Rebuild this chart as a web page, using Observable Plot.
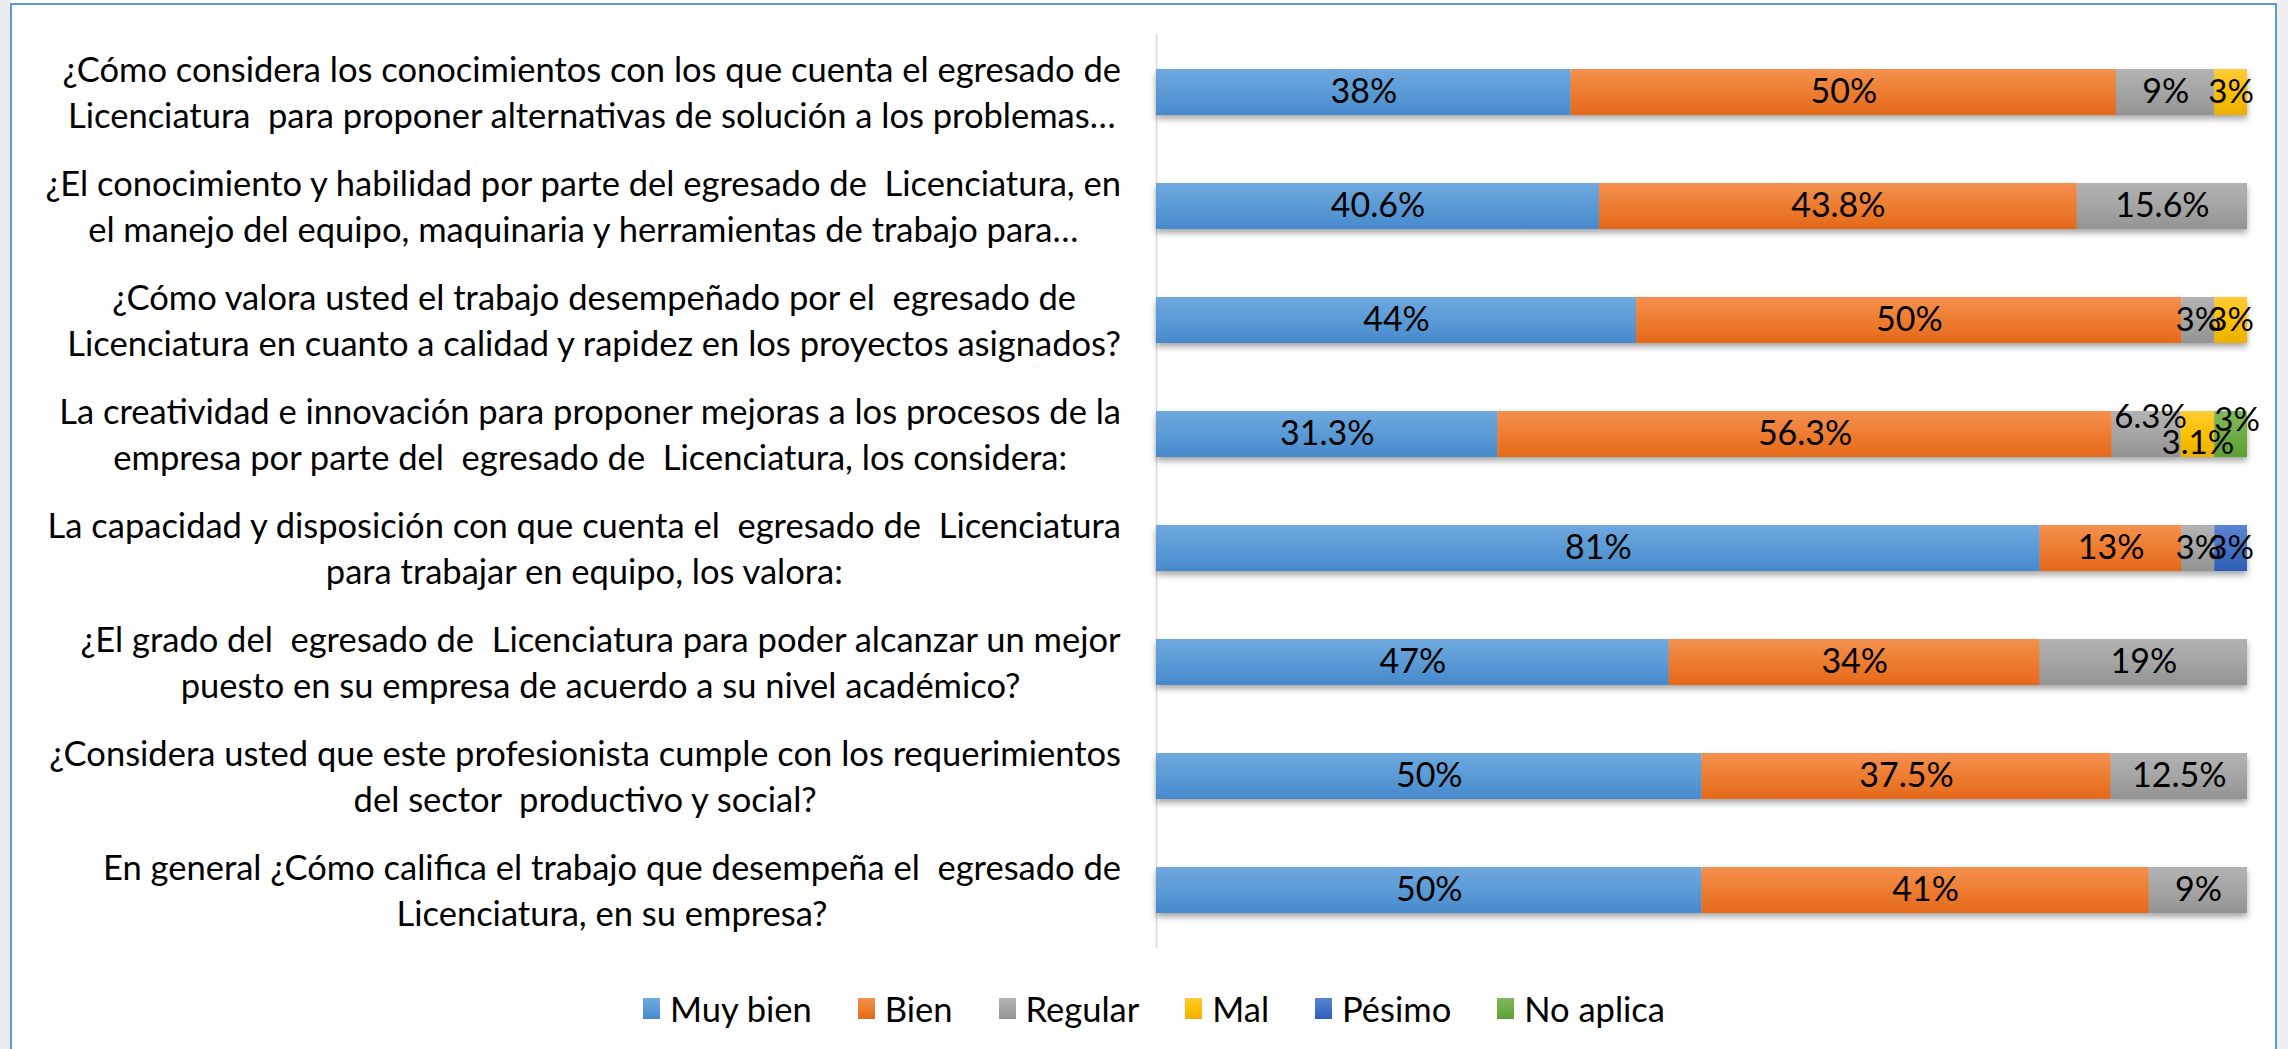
<!DOCTYPE html>
<html><head><meta charset="utf-8">
<script src="https://cdn.jsdelivr.net/npm/d3@7"></script>
<script src="https://cdn.jsdelivr.net/npm/@observablehq/plot@0.6"></script>
<style>
html,body{margin:0;padding:0;background:#fff;}
body{width:2288px;height:1049px;position:relative;overflow:hidden;font-family:Lato,"Liberation Sans",sans-serif;}
#stripL{position:absolute;left:0;top:0;width:10px;height:1049px;background:#ebebeb;}
#stripR{position:absolute;left:2277px;top:0;width:11px;height:1049px;background:#efefef;}
#frame{position:absolute;left:10px;top:3px;width:2267px;height:1100px;border:2px solid #5B9BD5;background:#fff;box-sizing:border-box;}
#chart{position:absolute;left:0;top:0;}
#legend{position:absolute;left:10px;top:984px;width:2288px;height:48px;display:flex;justify-content:center;align-items:center;font-size:34.5px;color:#000;}
.item{display:flex;align-items:center;margin:0 23px;}
.sw{width:17px;height:21px;margin-right:10px;}
</style></head>
<body>
<div id="stripL"></div><div id="stripR"></div><div id="frame"></div>
<div id="chart"></div>
<div id="legend"></div>
<script>
const categories = [
  "¿Cómo considera los conocimientos con los que cuenta el egresado de\nLicenciatura  para proponer alternativas de solución a los problemas…",
  "¿El conocimiento y habilidad por parte del egresado de  Licenciatura, en\nel manejo del equipo, maquinaria y herramientas de trabajo para…",
  "¿Cómo valora usted el trabajo desempeñado por el  egresado de\nLicenciatura en cuanto a calidad y rapidez en los proyectos asignados?",
  "La creatividad e innovación para proponer mejoras a los procesos de la\nempresa por parte del  egresado de  Licenciatura, los considera:",
  "La capacidad y disposición con que cuenta el  egresado de  Licenciatura\npara trabajar en equipo, los valora:",
  "¿El grado del  egresado de  Licenciatura para poder alcanzar un mejor\npuesto en su empresa de acuerdo a su nivel académico?",
  "¿Considera usted que este profesionista cumple con los requerimientos\ndel sector  productivo y social?",
  "En general ¿Cómo califica el trabajo que desempeña el  egresado de\nLicenciatura, en su empresa?"
];
const seriesNames = ["Muy bien", "Bien", "Regular", "Mal", "Pésimo", "No aplica"];
const muyBien  = [38, 40.6, 44, 31.3, 81, 47, 50, 50];
const bien     = [50, 43.8, 50, 56.3, 13, 34, 37.5, 41];
const regular  = [9, 15.6, 3, 6.3, 3, 19, 12.5, 9];
const mal      = [3, 0, 3, 3.1, 0, 0, 0, 0];
const pesimo   = [0, 0, 0, 0, 3, 0, 0, 0];
const noAplica = [0, 0, 0, 3, 0, 0, 0, 0];
const colorsTop    = ["#6FA8DF", "#F4904F", "#B3B3B3", "#FFCB3A", "#5B84D2", "#80B95A"];
const colorsBottom = ["#4689CC", "#E4681A", "#939393", "#EAB000", "#2D5DB5", "#5E9E35"];
const colorsFlat   = ["#5B9BD5", "#ED7D31", "#A5A5A5", "#FFC000", "#4472C4", "#70AD47"];

const seriesValues = [muyBien, bien, regular, mal, pesimo, noAplica];
const rows = [];
categories.forEach((q, i) => {
  let acc = 0;
  seriesNames.forEach((s, j) => {
    const v = seriesValues[j][i];
    if (v > 0) { rows.push({q, qi: i, series: s, value: v, x1: acc, x2: acc + v}); acc += v; }
  });
});

// label nudges for the crowded row (as in the original rendering)
const nudges = {"3|Regular": [4, -17], "3|Mal": [0, 9], "3|No aplica": [6, -14]};
const key = d => d.qi + "|" + d.series;
const wide = rows.filter(d => !nudges[key(d)] && d.value >= 5);
const narrow = rows.filter(d => !nudges[key(d)] && d.value < 5);
const labelMarks = Object.entries(nudges).map(([k, [dx, dy]]) =>
  Plot.text(rows.filter(d => key(d) === k), {
    x: d => (d.x1 + d.x2) / 2, y: "q", text: d => d.value + "%",
    dx, dy, fontSize: 33, fill: "#000", letterSpacing: -1
  })
);

const chart = Plot.plot({
  width: 2288, height: 962,
  marginLeft: 1156, marginRight: 41, marginTop: 34, marginBottom: 14,
  style: {fontFamily: "Lato, 'Liberation Sans', sans-serif", fontSize: "34px", background: "transparent"},
  x: {domain: [0, 100], axis: null},
  y: {domain: categories, axis: null, paddingInner: 0.6, paddingOuter: 0.3},
  color: {domain: seriesNames, range: seriesNames.map((s, j) => `url(#grad${j})`)},
  marks: [
    Plot.ruleX([0], {stroke: "#D9D9D9", strokeWidth: 1.6}),
    Plot.barX(rows, {x1: "x1", x2: "x2", y: "q", fill: "series", inset: 0}),
    Plot.text(wide, {x: d => (d.x1 + d.x2) / 2, y: "q", text: d => d.value + "%", fontSize: 34, fill: "#000"}),
    Plot.text(narrow, {x: d => (d.x1 + d.x2) / 2, y: "q", text: d => d.value + "%", fontSize: 33, fill: "#000", letterSpacing: -1.5}),
    ...labelMarks,
    Plot.text(categories, {y: d => d, text: d => d, frameAnchor: "left", dx: -570, dy: -2, textAnchor: "middle", lineHeight: 1.32, fontSize: 34.5, fill: "#000"})
  ]
});

// gradients
const ns = "http://www.w3.org/2000/svg";
const defs = document.createElementNS(ns, "defs");
seriesNames.forEach((s, j) => {
  const g = document.createElementNS(ns, "linearGradient");
  g.setAttribute("id", "grad" + j);
  g.setAttribute("x1", "0"); g.setAttribute("y1", "0"); g.setAttribute("x2", "0"); g.setAttribute("y2", "1");
  [[0, colorsTop[j]], [0.5, colorsFlat[j]], [1, colorsBottom[j]]].forEach(([o, c]) => {
    const st = document.createElementNS(ns, "stop");
    st.setAttribute("offset", o); st.setAttribute("stop-color", c);
    g.appendChild(st);
  });
  defs.appendChild(g);
});
chart.insertBefore(defs, chart.firstChild);
document.getElementById("chart").appendChild(chart);

// bar shadow
const barG = chart.querySelector('g[aria-label="bar"]');
if (barG) barG.style.filter = "drop-shadow(0px 4px 3px rgba(0,0,0,0.35))";

// right-align each category label block, lines centered within it
const textGroups = chart.querySelectorAll('g[aria-label="text"]');
const labelG = textGroups[textGroups.length - 1];
const svgRect = chart.getBoundingClientRect();
labelG.querySelectorAll("text").forEach(t => {
  t.setAttribute("xml:space", "preserve");
  const r = t.getBoundingClientRect();
  const shift = 1121 - (r.right - svgRect.left);
  const tr = t.getAttribute("transform") || "";
  t.setAttribute("transform", `translate(${shift},0) ` + tr);
});

// legend
const legend = document.getElementById("legend");
seriesNames.forEach((s, j) => {
  const it = document.createElement("div"); it.className = "item";
  const sw = document.createElement("div"); sw.className = "sw";
  sw.style.background = `linear-gradient(${colorsTop[j]}, ${colorsFlat[j]}, ${colorsBottom[j]})`;
  const tx = document.createElement("span"); tx.textContent = s;
  it.appendChild(sw); it.appendChild(tx); legend.appendChild(it);
});
</script>
</body></html>
